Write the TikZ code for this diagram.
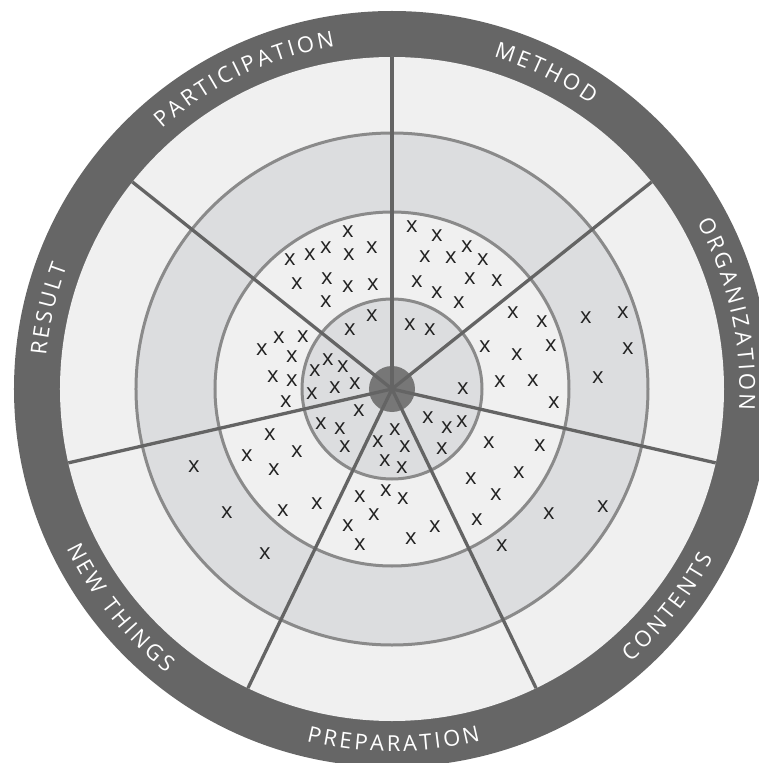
\documentclass[tikz,border=0pt]{standalone}
\usepackage{fontspec}
\setmainfont{Open Sans}
\newfontfamily\labfont{Open Sans}
\usetikzlibrary{decorations.text}
\definecolor{ringdark}{HTML}{666666}
\definecolor{lightfill}{HTML}{F0F0F0}
\definecolor{medfill}{HTML}{DCDDDF}
\definecolor{circline}{HTML}{8A8A8A}
\definecolor{spokeline}{HTML}{646464}
\definecolor{hubfill}{HTML}{777777}
\definecolor{markcol}{HTML}{222222}
\newcommand\lab{\labfont\fontsize{22}{22}\selectfont\kern3pt}
\tikzset{
  circ/.style={draw=circline, line width=3pt},
  spoke/.style={draw=spokeline, line width=3.3pt},
  mk/.style={inner sep=0pt, text=markcol, font=\fontsize{22}{22}\selectfont},
  toplab/.style={decorate, decoration={text along path, text align=center, text color=white, text={|\lab|#1}}},
}
\begin{document}
\begin{tikzpicture}[x=1pt,y=1pt]
\useasboundingbox (-392,-374) rectangle (367,389);
\fill[ringdark] (0,0) circle (378);
\fill[lightfill] (0,0) circle (332);
\fill[medfill] (0,0) circle (256);
\fill[lightfill] (0,0) circle (177);
\fill[medfill] (0,0) circle (90);
\draw[circ] (0,0) circle (256);
\draw[circ] (0,0) circle (177);
\draw[circ] (0,0) circle (90);
\fill[hubfill] (0,0) circle (23);
\foreach \a in {0,...,6} \draw[spoke] (0,0) -- ({90-\a*360/7}:332);
% labels, top half (clockwise)
\path[toplab=METHOD] (114.29:347.5) arc[start angle=114.29, end angle=14.29, radius=347.5];
\path[toplab=PARTICIPATION] (165.71:347.5) arc[start angle=165.71, end angle=65.71, radius=347.5];
\path[toplab=RESULT] (217.14:347.5) arc[start angle=217.14, end angle=117.14, radius=347.5];
\path[toplab=ORGANIZATION] (62.86:347.5) arc[start angle=62.86, end angle=-37.14, radius=347.5];
% labels, bottom half (counter-clockwise)
\path[toplab=NEW THINGS] (168.57:362.5) arc[start angle=168.57, end angle=268.57, radius=362.5];
\path[toplab=PREPARATION] (220:362.5) arc[start angle=220, end angle=320, radius=362.5];
\path[toplab=CONTENTS] (271.43:362.5) arc[start angle=271.43, end angle=371.43, radius=362.5];
% marks
\foreach \p [count=\i] in {
(-102,129),(-82,134),(-66,141),(-44,157),(-43,134),(-20,141),(-95,105),(-65,110),(-44,102),(-19,104),
(-66,87),(-20,73),(20,162),(45,153),(75,142),(33,132),(59,131),(91,129),(25,107),(45,96),
(67,86),(78,110),(105,108),(121,76),(150,67),(194,71),(231,76),(-130,39),(-113,51),(-89,52),
(-100,32),(-119,12),(-100,8),(-106,-13),(-77,18),(-64,29),(-80,-5),(-71,-35),(-122,-46),(-95,-63),
(-42,59),(18,64),(38,59),(-49,22),(-57,1),(-37,5),(-33,-22),(-52,-40),(-47,-58),(3,-41),
(-14,-53),(13,-58),(71,0),(36,-29),(55,-39),(70,-33),(50,-60),(93,42),(125,34),(159,43),
(108,7),(141,8),(162,-14),(206,11),(236,40),(97,-54),(148,-57),(-198,-78),(-145,-67),(-118,-81),
(-165,-124),(-109,-122),(-75,-115),(-127,-165),(-7,-72),(10,-79),(-32,-108),(-6,-102),(11,-110),(-18,-126),
(-44,-137),(-32,-156),(19,-150),(43,-138),(79,-90),(85,-131),(127,-84),(104,-106),(157,-125),(211,-118),
(110,-157)}
  \node[mk] (m\i) at \p {x};
\end{tikzpicture}
\end{document}
